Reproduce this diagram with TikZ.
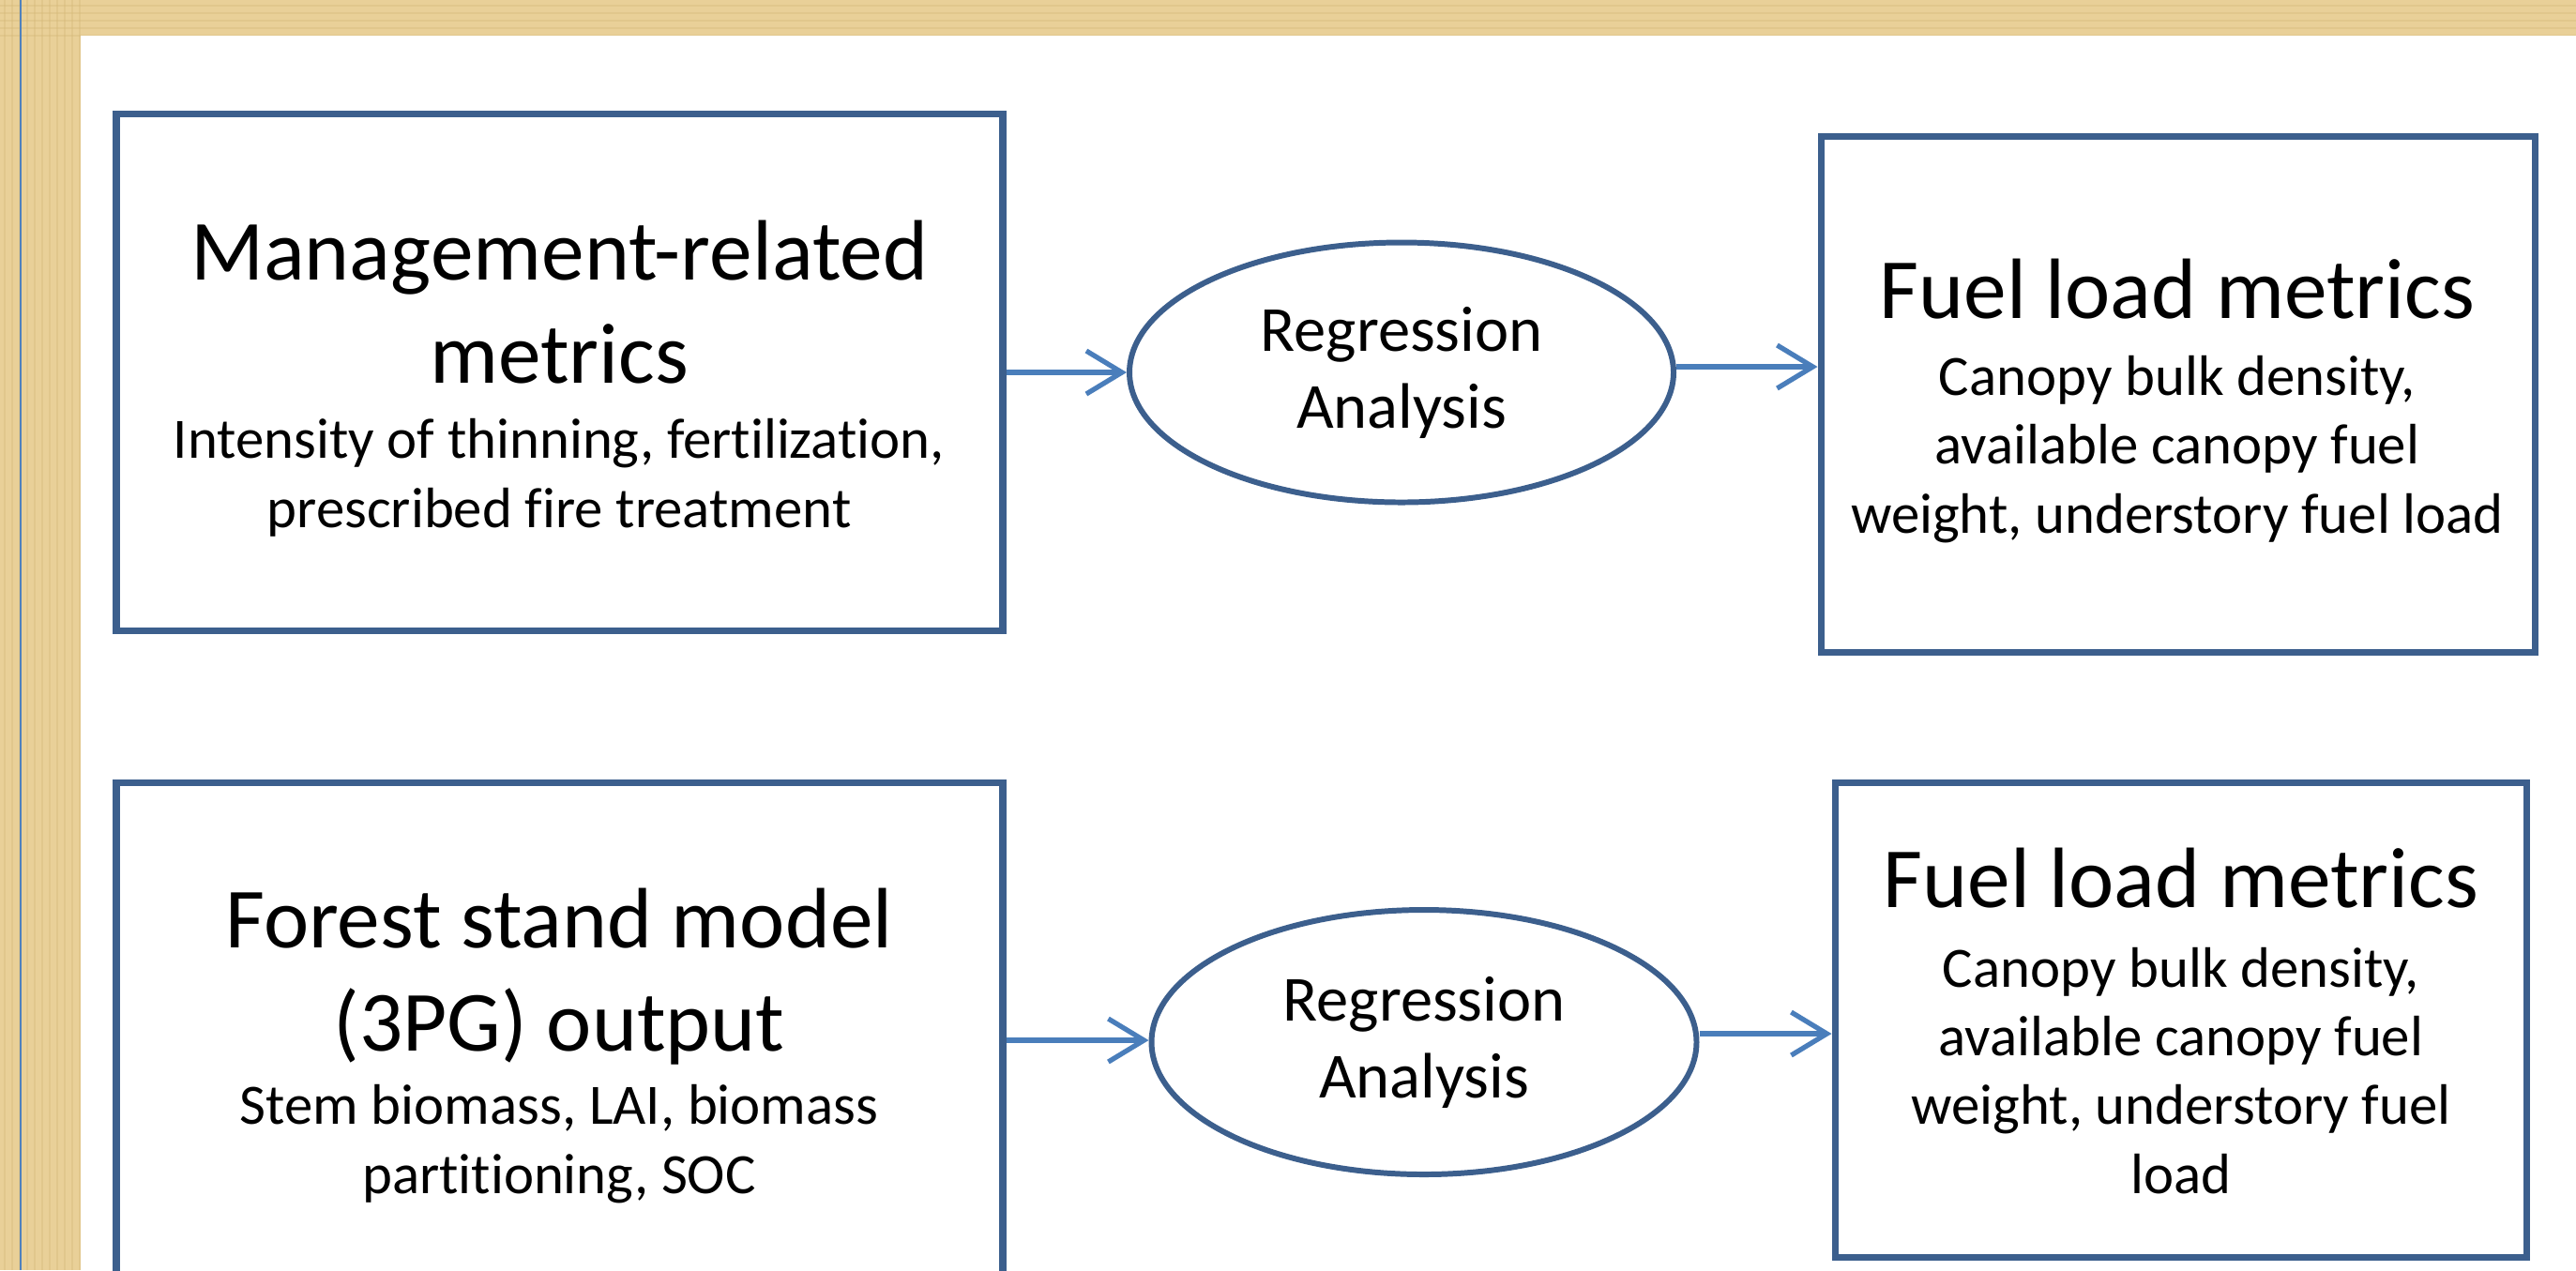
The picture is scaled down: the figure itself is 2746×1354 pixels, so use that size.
\documentclass[tikz,border=0pt]{standalone}
\usepackage{fontspec}
\setmainfont[Ligatures={TeX,CommonOff}]{Carlito}
\usepackage{xcolor}
\usepackage{tikz}
\usetikzlibrary{shapes.geometric,arrows.meta}
\definecolor{FLTan}{HTML}{E9D098}
\definecolor{FLTanDark}{HTML}{D4B776}
\definecolor{FLRule}{HTML}{4F81BD}
\definecolor{FLBox}{HTML}{3C5F8D}
\definecolor{FLArrow}{HTML}{4A7EBB}

\begin{document}
\begin{tikzpicture}[x=0.1mm,y=-0.1mm,
  metricbox/.style={draw=FLBox,line width=2pt,fill=white,inner sep=0pt},
  regnode/.style={ellipse,draw=FLBox,line width=1.7pt,fill=white,inner sep=0pt,
    align=center,font=\fontsize{19.5}{23.3}\selectfont},
  headtext/.style={anchor=base,align=center,inner sep=0pt,font=\fontsize{26}{31.3}\selectfont},
  notetext/.style={anchor=base,align=center,inner sep=0pt,font=\fontsize{17.3}{20.8}\selectfont},
  flow/.style={draw=FLArrow,line width=1.5pt,-{Straight Barb[length=3.8mm,width=4.6mm]}}]
\path[use as bounding box] (0,0) rectangle (2746,1354);
% papyrus backdrop and white slide
\fill[FLTan] (0,0) rectangle (2746,1354);
\foreach \y in {6,14,...,38} \draw[FLTanDark,opacity=.35] (0,\y) -- (2746,\y);
\foreach \x in {5,13,...,85} \draw[FLTanDark,opacity=.35] (\x,0) -- (\x,1354);
\fill[white] (86,38) rectangle (2746,1354);
\draw[FLRule,line width=0.6pt] (22,0) -- (22,1354);

% boxes
\node[metricbox,minimum width=94.5mm,minimum height=55.1mm] (mgmt) at (596.5,396.5) {};
\node[metricbox,minimum width=76.1mm,minimum height=55.0mm] (fuelA) at (2321.5,420) {};
\node[metricbox,minimum width=94.5mm,minimum height=58.6mm] (stand) at (596.5,1127) {};
\node[metricbox,minimum width=73.7mm,minimum height=50.6mm] (fuelB) at (2324.5,1087) {};

% box texts (base = last line)
\node[headtext] (mgmtHead) at (596,408) {Management-related\\metrics};
\node[notetext] (mgmtNote) at (596,562) {Intensity of thinning, fertilization,\\prescribed fire treatment};
\node[headtext] (fuelHeadA) at (2321,339) {Fuel load metrics};
\node[notetext] (fuelNoteA) at (2321,568) {Canopy bulk density,\\available canopy fuel\\weight, understory fuel load};
\node[headtext] (standHead) at (596,1120) {Forest stand model\\(3PG) output};
\node[notetext] (standNote) at (596,1272) {Stem biomass, LAI, biomass\\partitioning, SOC};
\node[headtext] (fuelHeadB) at (2325,967) {Fuel load metrics};
\node[notetext] (fuelNoteB) at (2325,1272) {Canopy bulk density,\\available canopy fuel\\weight, understory fuel\\load};

% regression steps
\node[regnode,minimum width=58.0mm,minimum height=27.7mm] (regA) at (1494,397) {Regression\\Analysis};
\node[regnode,minimum width=58.1mm,minimum height=28.2mm] (regB) at (1518,1111) {Regression\\Analysis};

% flows
\draw[flow] (regA.west -| mgmt.east) -- (regA.west);
\draw[flow] ([yshift=0.6mm]regA.east) -- ([yshift=0.6mm]regA.east -| fuelA.west);
\draw[flow] ([yshift=0.2mm]regB.west -| stand.east) -- ([yshift=0.2mm]regB.west);
\draw[flow] ([yshift=0.9mm]regB.east) -- ([yshift=0.9mm]regB.east -| fuelB.west);
\end{tikzpicture}
\end{document}
